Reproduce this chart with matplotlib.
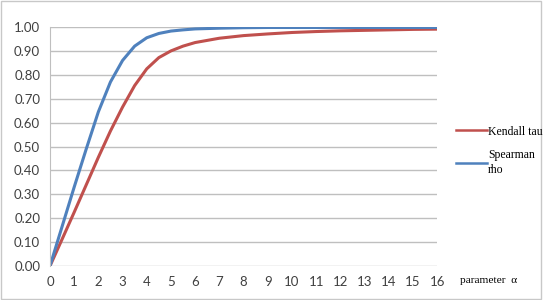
import matplotlib
matplotlib.use("Agg")
from matplotlib import pyplot as plt

# parameter alpha and the two dependence measures
alpha = [0, 0.5, 1, 1.5, 2, 2.5, 3, 3.5, 4, 4.5, 5, 5.5, 6, 7, 8, 9, 10, 11, 12, 13, 14, 15, 16]
kendall = [0, 0.112, 0.225, 0.34, 0.455, 0.565, 0.665, 0.755, 0.825, 0.872, 0.90, 0.92, 0.935,
           0.953, 0.964, 0.971, 0.977, 0.981, 0.984, 0.986, 0.988, 0.99, 0.991]
spearman = [0, 0.165, 0.33, 0.49, 0.645, 0.77, 0.86, 0.92, 0.955, 0.973, 0.983, 0.988, 0.992,
            0.995, 0.997, 0.998, 0.998, 0.998, 0.998, 0.998, 0.998, 0.998, 0.998]
yticks = [0.0, 0.1, 0.2, 0.3, 0.4, 0.5, 0.6, 0.7, 0.8, 0.9, 1.0]

fig = plt.figure(figsize=(5.43, 3.0), dpi=100)
ax = fig.add_axes([0.092, 0.113, 0.713, 0.797])

ax.plot(alpha, kendall, color="#C0504D", lw=2.2, label="Kendall tau", solid_joinstyle="round")
ax.plot(alpha, spearman, color="#4F81BD", lw=2.2, label="Spearman\nrho", solid_joinstyle="round")

ax.set_xlim(0, 16)
ax.set_ylim(0, 1.0)
ax.set_xticks(range(0, 17))
ax.set_yticks(yticks)
ax.set_yticklabels(["%.2f" % v for v in yticks])
ax.grid(axis="y", color="#BFBFBF", lw=1)
ax.set_axisbelow(True)
for s in ["top", "right", "bottom"]:
    ax.spines[s].set_visible(False)
ax.spines["left"].set_color("#BFBFBF")
ax.tick_params(length=0, labelsize=9.5, colors="#404040", pad=7)
for lab in ax.get_xticklabels() + ax.get_yticklabels():
    lab.set_family("Lato")

leg = fig.legend(loc="upper left", bbox_to_anchor=(0.82, 0.617), frameon=False,
                 prop={"family": "Liberation Serif", "size": 8.5}, handlelength=2.6,
                 handletextpad=0.1, labelspacing=1.0)
for h in leg.get_lines():
    h.set_linewidth(1.8)
for t in leg.get_texts():
    t.set_linespacing(1.35)
fig.text(0.847, 0.058, "parameter  \u03b1", family="Liberation Serif", fontsize=8.2)

fig.patches.append(plt.Rectangle((0.002, 0.003), 0.994, 0.994, transform=fig.transFigure,
                                 fill=False, ec="#C8C8C8", lw=1))

fig.savefig("out.png", dpi=100)
